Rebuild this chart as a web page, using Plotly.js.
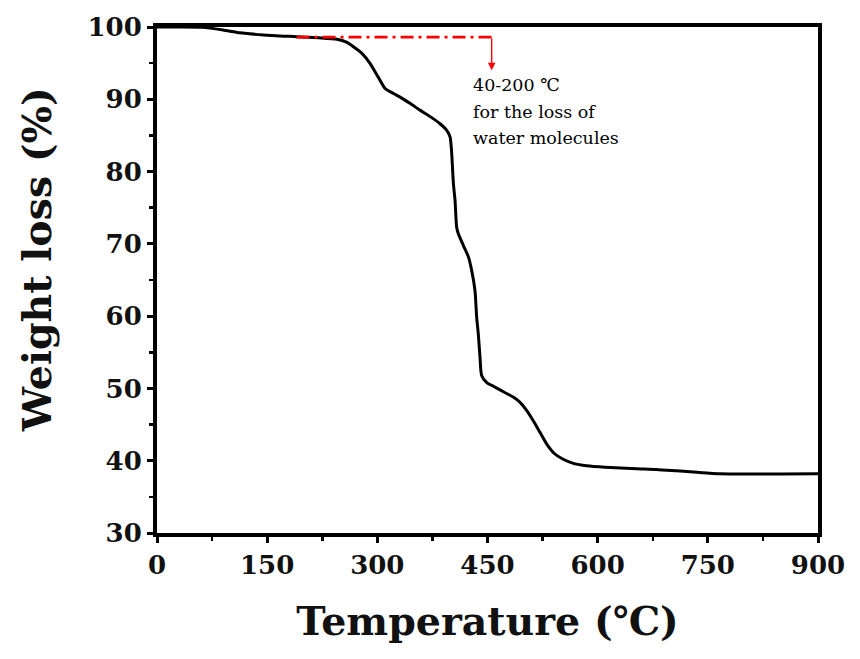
<!DOCTYPE html>
<html>
<head>
<meta charset="utf-8">
<script src="https://cdn.plot.ly/plotly-3.0.1.min.js"></script>
<style>html,body{margin:0;padding:0;background:#fff;}#chart{width:860px;height:659px;}</style>
</head>
<body>
<div id="chart"></div>
<script>
// TGA curve
const temperature = [0, 30, 62, 90, 113, 145, 190, 220, 245, 258, 267, 279, 290, 301, 310.5, 322, 331, 345, 358, 372, 385, 394.5, 399, 401, 403.6, 405.8, 408, 410.3, 417, 424, 428.5, 433, 435.3, 437.5, 439.8, 442, 449, 458, 467, 485, 494, 503, 512.5, 521, 530.7, 541, 553, 568, 585, 610, 653, 680, 707.5, 735, 766.6, 800, 850, 900];
const weight = [100, 100, 99.95, 99.58, 99.2, 98.9, 98.66, 98.5, 98.3, 97.9, 97.3, 96.35, 94.97, 93.1, 91.5, 90.8, 90.3, 89.4, 88.5, 87.6, 86.65, 85.7, 84.8, 82.95, 78.3, 76.0, 72.3, 71.4, 69.8, 68.2, 66.3, 63.5, 59.8, 57.5, 54.3, 51.8, 50.8, 50.3, 49.8, 48.8, 48.1, 47.0, 45.5, 44.0, 42.3, 41.0, 40.2, 39.6, 39.3, 39.1, 38.9, 38.8, 38.6, 38.4, 38.2, 38.15, 38.15, 38.2];

// Annotation: water-loss range marker
const markerX = [190, 455.7];
const markerY = [98.6, 98.6];
const arrowTip = [455.7, 94.0];
const noteLines = ["40-200 ℃", "for the loss of", "water molecules"];
const noteX = 427;
const noteY = [91.96, 88.26, 84.6];

const xTicks = [0, 150, 300, 450, 600, 750, 900];
const yTicks = [30, 40, 50, 60, 70, 80, 90, 100];
const xTitle = 'Temperature (℃)';
const yTitle = 'Weight loss (%)';

const traces = [
  {x: temperature, y: weight, type: 'scatter', mode: 'lines',
   line: {color: '#000', width: 3, shape: 'spline', smoothing: 0.6}, hoverinfo: 'skip'},
  {x: markerX, y: markerY, type: 'scatter', mode: 'lines',
   line: {color: '#ff0000', width: 2.7, dash: '13px,5px,3px,5px'}, hoverinfo: 'skip'}
];

const titleFont = {family: 'DejaVu Serif', size: 39.5, color: '#111', weight: 'bold'};
const annotations = [
  {x: arrowTip[0], y: arrowTip[1], xref: 'x', yref: 'y', ax: markerX[1], ay: markerY[1], axref: 'x', ayref: 'y',
   text: '', showarrow: true, arrowcolor: '#ff0000', arrowwidth: 1.4, arrowhead: 2, arrowsize: 1.1},
  {x: -0.1815, y: 0.539, xref: 'paper', yref: 'paper', text: yTitle, textangle: -90, showarrow: false,
   xanchor: 'center', yanchor: 'middle', font: titleFont}
];
noteLines.forEach((t, i) => annotations.push({
  x: noteX, y: noteY[i], xref: 'x', yref: 'y', text: t, showarrow: false,
  xanchor: 'left', yanchor: 'middle',
  font: {family: 'DejaVu Serif', size: 17.5, color: '#000'}
}));

const tickFont = {family: 'DejaVu Serif', size: 26, color: '#111', weight: 'bold'};
const layout = {
  width: 860, height: 659,
  margin: {l: 157, r: 42, t: 27, b: 126},
  paper_bgcolor: '#fff', plot_bgcolor: '#fff',
  showlegend: false,
  xaxis: {
    range: [0, 900], tickvals: xTicks, ticktext: xTicks.map(String),
    showgrid: false, zeroline: false,
    showline: true, linecolor: '#000', linewidth: 4, mirror: true,
    ticks: 'outside', ticklen: 6, tickwidth: 3, tickcolor: '#000',
    minor: {dtick: 75, tick0: 0, ticks: 'outside', ticklen: 4, tickwidth: 2.5, tickcolor: '#000', showgrid: false},
    tickfont: tickFont,
    automargin: true,
    title: {text: xTitle, font: titleFont, standoff: 29}
  },
  yaxis: {
    range: [30, 100], tickvals: yTicks, ticktext: yTicks.map(String),
    showgrid: false, zeroline: false,
    showline: true, linecolor: '#000', linewidth: 4, mirror: true,
    ticks: 'outside', ticklen: 6, tickwidth: 3, tickcolor: '#000',
    minor: {dtick: 5, tick0: 30, ticks: 'outside', ticklen: 4, tickwidth: 2.5, tickcolor: '#000', showgrid: false},
    tickfont: tickFont
  },
  annotations: annotations
};

Plotly.newPlot('chart', traces, layout, {staticPlot: true, displayModeBar: false});
</script>
</body>
</html>
